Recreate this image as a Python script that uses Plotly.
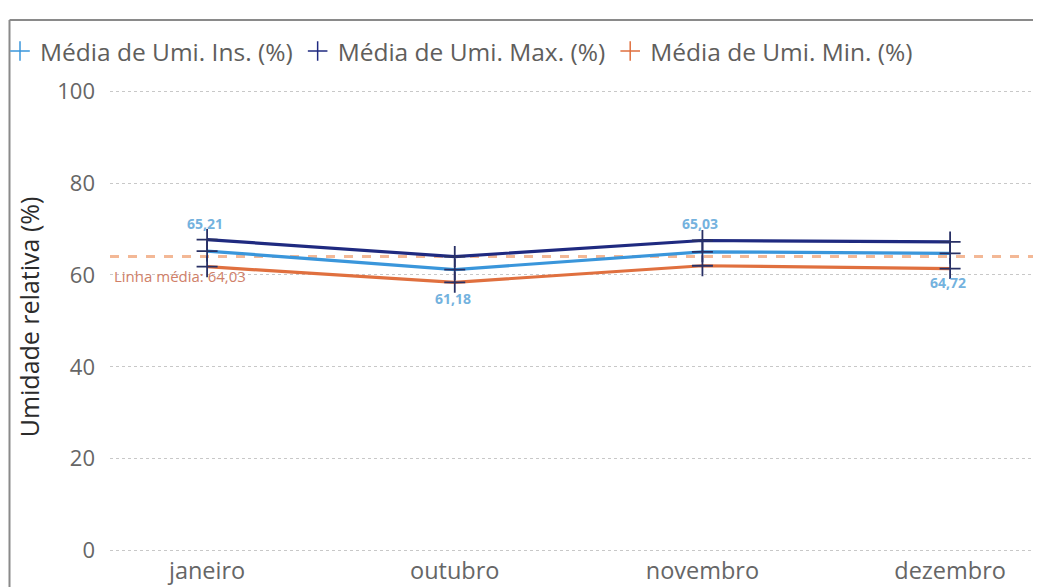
import math
import plotly.graph_objects as go

# ---- data ----
months = ["janeiro", "outubro", "novembro", "dezembro"]
umi_ins = [65.21, 61.18, 65.03, 64.72]
umi_max = [67.7, 64.0, 67.5, 67.2]
umi_min = [61.8, 58.4, 62.0, 61.4]
label_pos = ["top", "bottom", "top", "bottom"]
series_names = ["Média de Umi. Ins. (%)", "Média de Umi. Max. (%)", "Média de Umi. Min. (%)"]
y_ticks = [0, 20, 40, 60, 80, 100]

C_INS = "#3A96DB"
C_MAX = "#1F2A80"
C_MIN = "#E0703F"
C_MARK = "#283065"
FONT = "Open Sans"

OFF = 8  # page body margin
W, H = 1041 - OFF, 587 - OFF
# plot area in page pixels: left 110, right 1041, top 82, bottom 552.4
ML = 110 - OFF
MR = 0
MT = 82 - OFF
MB = H - (552.4 - OFF)
PW, PH = W - ML - MR, H - MT - MB


def px_x(p):
    return (p - OFF - ML) / PW


def px_y(p):
    return (H - MB - (p - OFF)) / PH


fig = go.Figure()

series = [(series_names[2], umi_min, C_MIN), (series_names[0], umi_ins, C_INS), (series_names[1], umi_max, C_MAX)]
for name, vals, col in series:
    fig.add_trace(go.Scatter(
        x=months, y=vals, mode="lines+markers", name=name, showlegend=False,
        line=dict(color=col, width=3.2),
        marker=dict(symbol="cross-thin", size=15, line=dict(color=C_MARK, width=1.8)),
        hoverinfo="x+y+name",
    ))

# legend-only entries (Power BI style "+" markers)
for rank, (name, col) in enumerate(zip(series_names, [C_INS, C_MAX, C_MIN])):
    fig.add_trace(go.Scatter(
        x=[None], y=[None], mode="markers", name=name, legendrank=rank + 1,
        marker=dict(symbol="cross-thin", size=14, line=dict(color=col, width=1.5)),
    ))

# data labels for Ins series
for m, v, pos in zip(months, umi_ins, label_pos):
    fig.add_annotation(
        x=m, y=v, text=f"{v:.2f}".replace(".", ","), showarrow=False,
        yshift=28 if pos == "top" else -29, xshift=-2,
        font=dict(family=FONT, size=14, color="#74B2DE", weight="bold"),
    )

# average line of Ins
avg = sum(umi_ins) / len(umi_ins)
avg_txt = f"{math.floor(avg * 100 + 1e-9) / 100:.2f}".replace(".", ",")
fig.add_shape(type="line", xref="paper", yref="y", x0=0, x1=1, y0=avg, y1=avg,
              line=dict(color="#F3B896", width=3, dash="dash"), layer="below")
fig.add_annotation(
    xref="paper", yref="y", x=px_x(112), y=avg, xanchor="left", yanchor="middle",
    yshift=-20, text=f"Linha média: {avg_txt}", showarrow=False,
    font=dict(family=FONT, size=15, color="#D08068"),
)

# frame lines
fx = px_x(9.5)
fy = px_y(20)
fig.add_shape(type="line", xref="paper", yref="paper", x0=fx, x1=fx, y0=fy, y1=px_y(600),
              line=dict(color="#8A8A8A", width=2))
fig.add_shape(type="line", xref="paper", yref="paper", x0=fx, x1=px_x(1041), y0=fy, y1=fy,
              line=dict(color="#8A8A8A", width=2))

fig.update_layout(
    width=W, height=H,
    margin=dict(l=ML, r=MR, t=MT, b=MB, autoexpand=False),
    paper_bgcolor="white", plot_bgcolor="white",
    font=dict(family=FONT, color="#666666"),
    showlegend=True,
    legend=dict(
        orientation="h", x=px_x(0), y=px_y(51), xanchor="left", yanchor="middle",
        font=dict(family=FONT, size=24.5, color="#605E5C"),
        bgcolor="rgba(0,0,0,0)", itemwidth=30, tracegroupgap=0,
    ),
    xaxis=dict(
        type="category", range=[-0.392, 3.367], showgrid=False, zeroline=False,
        showline=False, ticks="", tickfont=dict(family=FONT, size=23.5, color="#666666"),
        ticklabelstandoff=2, automargin=False,
    ),
    yaxis=dict(
        range=[-0.3, 102], tickvals=y_ticks, showgrid=True, gridcolor="#C8C8C8",
        griddash="dot", gridwidth=1, zeroline=False, showline=False, ticks="",
        tickfont=dict(family=FONT, size=22, color="#666666"),
        ticklabelstandoff=14, automargin=False,
        title=dict(text="Umidade relativa (%)", font=dict(family=FONT, size=25, color="#2B2B2B"), standoff=10),
    ),
)

fig.write_html("out.html")
